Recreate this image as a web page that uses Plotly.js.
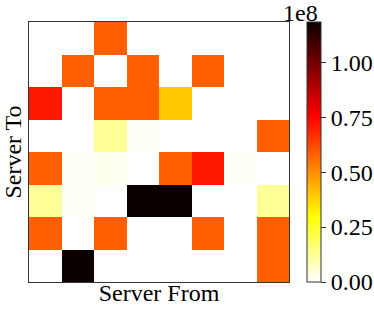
<!DOCTYPE html>
<html>
<head>
<meta charset="utf-8">
<script src="https://cdn.plot.ly/plotly-3.0.1.min.js"></script>
<style>html,body{margin:0;padding:0;background:#fff;}#chart{width:374px;height:311px;}</style>
</head>
<body>
<div id="chart"></div>
<script>
// Traffic matrix (rows: Server To, top to bottom; columns: Server From, left to right)
var serverFrom = [0, 1, 2, 3, 4, 5, 6, 7];
var serverTo = [0, 1, 2, 3, 4, 5, 6, 7];
var row0 = [0, 0, 58300000, 0, 0, 0, 0, 0];
var row1 = [0, 58300000, 0, 58300000, 0, 58300000, 0, 0];
var row2 = [70900000, 0, 58300000, 58300000, 39800000, 0, 0, 0];
var row3 = [0, 0, 12100000, 1200000, 0, 0, 0, 58300000];
var row4 = [58300000, 1200000, 1800000, 0, 58300000, 70900000, 1200000, 0];
var row5 = [12100000, 1200000, 0, 118300000, 118300000, 0, 0, 12100000];
var row6 = [58300000, 0, 58300000, 0, 0, 58300000, 0, 58300000];
var row7 = [0, 118300000, 0, 0, 0, 0, 0, 58300000];
var cbTickVals = [0, 25000000, 50000000, 75000000, 100000000];
var cbTickText = ['0.00', '0.25', '0.50', '0.75', '1.00'];
var zMax = 118300000;

var font = 'Liberation Serif, Times New Roman, serif';
var trace = {
  type: 'heatmap',
  x: serverFrom,
  y: serverTo,
  z: [row0, row1, row2, row3, row4, row5, row6, row7],
  zmin: 0,
  zmax: zMax,
  colorscale: [[0, '#ffffff'], [0.253968, '#ffff00'], [0.634921, '#ff0000'], [1, '#0b0000']],
  hoverinfo: 'skip',
  colorbar: {
    x: 1.0692, xanchor: 'left', xpad: 0,
    y: 0.5, yanchor: 'middle', ypad: 0,
    len: 1, lenmode: 'fraction',
    thickness: 14,
    outlinewidth: 1, outlinecolor: '#333',
    ticks: 'outside', ticklen: 5, tickwidth: 1, tickcolor: '#333',
    tickvals: cbTickVals, ticktext: cbTickText,
    tickfont: {family: font, size: 24, color: '#000'}
  }
};

var layout = {
  width: 374, height: 311,
  margin: {l: 29, r: 85, t: 22, b: 29, pad: 0, autoexpand: false},
  paper_bgcolor: '#fff', plot_bgcolor: '#fff',
  font: {family: font, size: 24, color: '#000'},
  xaxis: {
    range: [-0.5, 7.5], showticklabels: false, ticks: '', showgrid: false, zeroline: false,
    showline: true, mirror: true, linecolor: '#333', linewidth: 1,
    title: {text: 'Server From', font: {family: font, size: 24, color: '#000'}, standoff: 2}
  },
  yaxis: {
    range: [7.5, -0.5], showticklabels: false, ticks: '', showgrid: false, zeroline: false,
    showline: true, mirror: true, linecolor: '#333', linewidth: 1,
    title: {text: 'Server To', font: {family: font, size: 24, color: '#000'}, standoff: 0}
  },
  annotations: [{
    text: '1e8', xref: 'paper', yref: 'paper', x: 1.1192, y: 1.0, xanchor: 'right', yanchor: 'bottom',
    showarrow: false, font: {family: font, size: 24, color: '#000'}, yshift: -6
  }]
};

Plotly.newPlot('chart', [trace], layout, {displayModeBar: false, staticPlot: true});
</script>
</body>
</html>
